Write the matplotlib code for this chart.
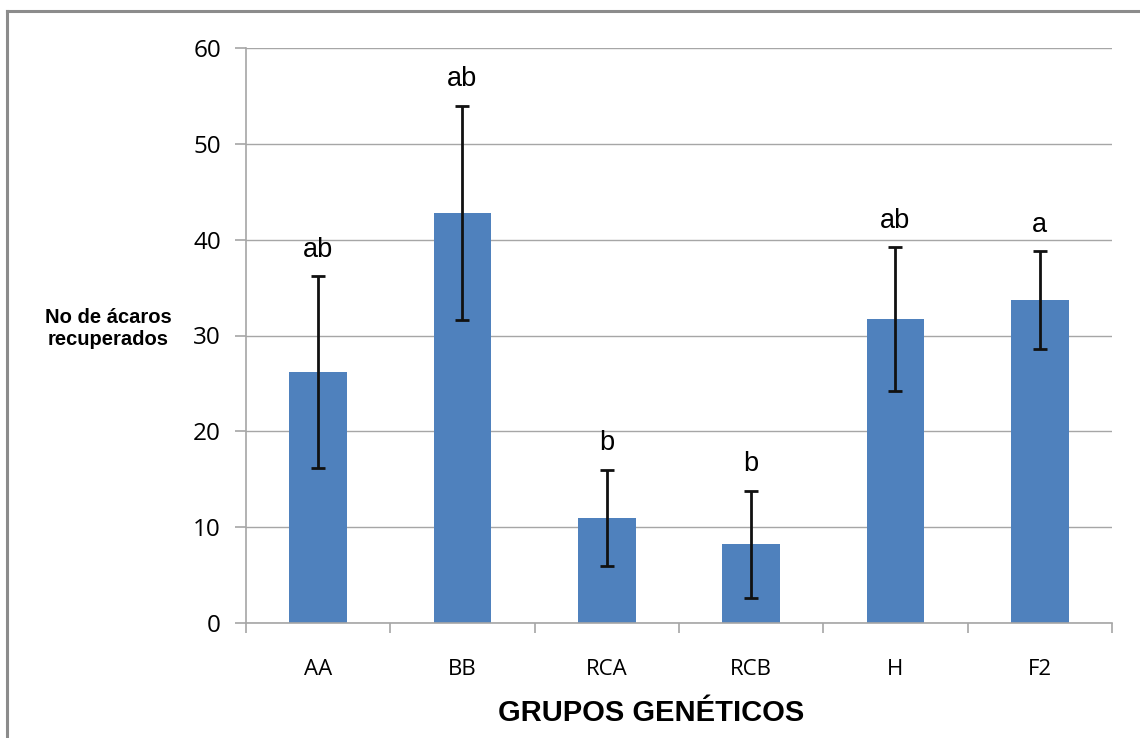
import matplotlib
matplotlib.use("Agg")
import matplotlib.pyplot as plt
from matplotlib.lines import Line2D

grupos = ["AA", "BB", "RCA", "RCB", "H", "F2"]
medias = [26.2, 42.8, 11.0, 8.2, 31.7, 33.7]
errores = [10.0, 11.2, 5.0, 5.6, 7.5, 5.1]
letras = ["ab", "ab", "b", "b", "ab", "a"]

fig = plt.figure(figsize=(11.4, 7.38), dpi=100)
ax = fig.add_axes([246 / 1140, 1 - 623 / 738, (1112 - 246) / 1140, (623 - 48) / 738])

x = range(len(grupos))
ax.bar(x, medias, width=0.4, color="#4F81BD", zorder=2)
ax.errorbar(x, medias, yerr=errores, fmt="none", ecolor="#111111",
            elinewidth=2, capsize=5, capthick=2, zorder=3)

# letras de significancia sobre las barras
for i, (m, e, l) in enumerate(zip(medias, errores, letras)):
    ax.annotate(l, (i, m + e), xytext=(0, 14), textcoords="offset points",
                ha="center", va="baseline", fontsize=19.5, family="Liberation Sans")

ax.set_xlim(-0.5, len(grupos) - 0.5)
ax.set_ylim(0, 60)
ax.set_yticks(range(0, 61, 10))
ax.grid(axis="y", color="#A6A6A6", linewidth=1, zorder=0)
ax.set_axisbelow(True)

ax.set_xticks([i - 0.5 for i in range(len(grupos) + 1)])
ax.set_xticklabels([])
ax.set_xticks(list(x), minor=True)
ax.set_xticklabels(grupos, minor=True)
ax.tick_params(axis="x", which="major", length=7, color="#A6A6A6", width=1.2)
ax.tick_params(axis="x", which="minor", length=0, pad=26, labelsize=16)
ax.tick_params(axis="y", length=8, color="#A6A6A6", width=1.2, pad=10, labelsize=17.5)
for lab in ax.get_xticklabels(minor=True) + ax.get_yticklabels():
    lab.set_family("Open Sans")

for s in ["top", "right"]:
    ax.spines[s].set_visible(False)
for s in ["left", "bottom"]:
    ax.spines[s].set_color("#A6A6A6")
    ax.spines[s].set_linewidth(1.2)

fig.text(108 / 1140, 1 - 329 / 738, "No de ácaros\nrecuperados", ha="center", va="center",
         fontsize=14.5, fontweight="bold", family="Liberation Sans", linespacing=1.2)
fig.text(651 / 1140, 1 - 713 / 738, "GRUPOS GENÉTICOS", ha="center", va="center",
         fontsize=21, fontweight="bold", family="Liberation Sans")

# borde del grafico
fig.add_artist(Line2D([7 / 1140, 1.0], [1 - 11 / 738] * 2, color="#8C8C8C", linewidth=2.2,
                      transform=fig.transFigure))
fig.add_artist(Line2D([7 / 1140] * 2, [0.0, 1 - 11 / 738], color="#8C8C8C", linewidth=2.2,
                      transform=fig.transFigure))

fig.savefig("out.png", dpi=100)
